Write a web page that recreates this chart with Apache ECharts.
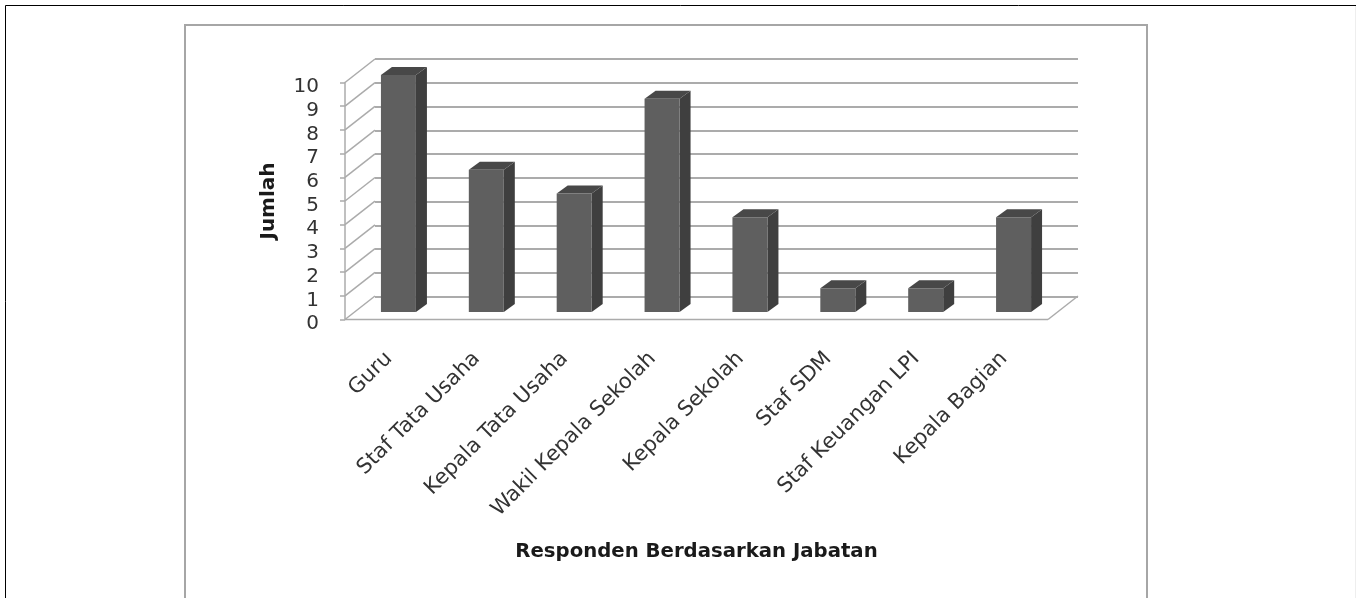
<!DOCTYPE html>
<html>
<head>
<meta charset="utf-8">
<style>
  html, body { margin: 0; padding: 0; background: #fff; }
  #chart { width: 1356px; height: 598px; }
</style>
<script src="https://cdn.jsdelivr.net/npm/echarts@6/dist/echarts.min.js"></script>
</head>
<body>
<div id="chart"></div>
<script>
const categories = ['Guru', 'Staf Tata Usaha', 'Kepala Tata Usaha', 'Wakil Kepala Sekolah', 'Kepala Sekolah', 'Staf SDM', 'Staf Keuangan LPI', 'Kepala Bagian']
const values = [10, 6, 5, 9, 4, 1, 1, 4]
const yTicks = [0, 1, 2, 3, 4, 5, 6, 7, 8, 9, 10]

const lineColor = '#ababab'
const fontFamily = '"DejaVu Sans", sans-serif'
// wall depth of the fake 3d box
const wallDx = 30
const wallDy = -23.5

const chart = echarts.init(document.getElementById('chart'))

// diagonal wall lines and floor
function renderWall(params, api) {
  const v = api.value(0)
  const y = api.coord([0, v])[1]
  const rect = params.coordSys
  const style = { stroke: lineColor, lineWidth: 1.5, fill: null }
  const children = [{
    type: 'line',
    shape: { x1: rect.x, y1: y, x2: rect.x + wallDx, y2: y + wallDy },
    style
  }]
  if (v === 0) {
    const right = rect.x + rect.width
    children.push({ type: 'line', shape: { x1: rect.x, y1: y, x2: right, y2: y }, style })
    children.push({ type: 'line', shape: { x1: right, y1: y, x2: right + wallDx, y2: y + wallDy }, style })
  }
  return { type: 'group', children }
}

// bar with front, top and side faces
function renderBar(params, api) {
  const top = api.coord([api.value(0), api.value(1)])
  const bottom = api.coord([api.value(0), 0])
  const w = 35
  const dx = 11
  const dy = -8
  const x = top[0] + 9.5 - w / 2
  const y0 = top[1] - 7.5
  const y1 = bottom[1] - 7.5
  return {
    type: 'group',
    children: [
      {
        type: 'polygon',
        shape: { points: [[x + w, y0], [x + w + dx, y0 + dy], [x + w + dx, y1 + dy], [x + w, y1]] },
        style: { fill: '#3f3f3f' }
      },
      {
        type: 'polygon',
        shape: { points: [[x, y0], [x + dx, y0 + dy], [x + w + dx, y0 + dy], [x + w, y0]] },
        style: { fill: '#484848' }
      },
      {
        type: 'rect',
        shape: { x, y: y0, width: w, height: y1 - y0 },
        style: { fill: '#5f5f5f' }
      }
    ]
  }
}

chart.setOption({
  backgroundColor: '#fff',
  animation: false,
  grid: [
    { left: 345, top: 82.5, width: 703, height: 237 },
    { left: 375, top: 59, width: 703, height: 237.5 }
  ],
  xAxis: [
    {
      type: 'category',
      gridIndex: 0,
      data: categories,
      name: 'Responden Berdasarkan Jabatan',
      nameLocation: 'middle',
      nameGap: 222,
      nameTextStyle: { fontFamily, fontSize: 19.7, fontWeight: 'bold', color: '#1a1a1a' },
      axisLine: { show: false },
      axisTick: { show: false },
      axisLabel: {
        rotate: 45,
        interval: 0,
        margin: 36,
        fontFamily,
        fontSize: 21,
        color: '#333'
      }
    },
    { type: 'category', gridIndex: 1, data: categories, show: false }
  ],
  yAxis: [
    {
      type: 'value',
      gridIndex: 0,
      min: 0,
      max: 10,
      interval: 1,
      name: 'Jumlah',
      nameLocation: 'middle',
      nameGap: 66,
      nameRotate: 90,
      nameTextStyle: { fontFamily, fontSize: 20, fontWeight: 'bold', color: '#1a1a1a' },
      splitLine: { show: false },
      axisLine: { show: true, lineStyle: { color: lineColor, width: 1.5 } },
      axisTick: { show: true, length: 5, lineStyle: { color: lineColor, width: 1.5 } },
      axisLabel: {
        margin: 26,
        verticalAlign: 'top',
        lineHeight: 9,
        fontFamily,
        fontSize: 20,
        color: '#333'
      }
    },
    {
      type: 'value',
      gridIndex: 1,
      min: 0,
      max: 10,
      interval: 1,
      axisLine: { show: false },
      axisTick: { show: false },
      axisLabel: { show: false },
      splitLine: { show: true, lineStyle: { color: lineColor, width: 2 } }
    }
  ],
  series: [
    {
      type: 'custom',
      xAxisIndex: 0,
      yAxisIndex: 0,
      z: 2,
      silent: true,
      clip: false,
      data: yTicks,
      encode: { y: 0 },
      renderItem: renderWall
    },
    {
      type: 'custom',
      xAxisIndex: 0,
      yAxisIndex: 0,
      z: 3,
      clip: false,
      data: values.map((v, i) => [i, v]),
      encode: { x: 0, y: 1 },
      renderItem: renderBar
    }
  ],
  graphic: [
    // outer black frame, open at the bottom
    { type: 'polyline', z: 1, silent: true, shape: { points: [[5.5, 598], [5.5, 5.5], [1356, 5.5]] }, style: { stroke: '#000', lineWidth: 1, fill: null } },
    { type: 'line', z: 1, silent: true, shape: { x1: 1355.5, y1: 6, x2: 1355.5, y2: 598 }, style: { stroke: '#eee', lineWidth: 1 } },
    // chart area border
    { type: 'polyline', z: 1, silent: true, shape: { points: [[185, 598], [185, 25], [1147, 25], [1147, 598]] }, style: { stroke: '#a6a6a6', lineWidth: 2, fill: null } }
  ]
})
</script>
</body>
</html>
